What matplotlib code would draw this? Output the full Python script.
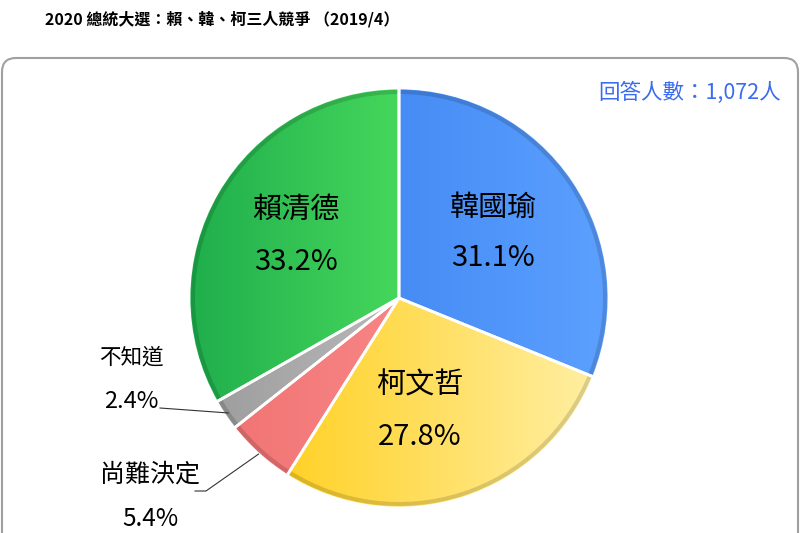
import numpy as np
import matplotlib
matplotlib.use("Agg")
import matplotlib.pyplot as plt
from matplotlib.colors import LinearSegmentedColormap
from matplotlib.patches import FancyBboxPatch, Wedge

plt.rcParams['font.family'] = ['Noto Sans CJK TC', 'DejaVu Sans']

# ---- data ----
labels = ['韓國瑜', '柯文哲', '尚難決定', '不知道', '賴清德']
values = [31.1, 27.8, 5.4, 2.4, 33.2]
pct_labels = ['31.1%', '27.8%', '5.4%', '2.4%', '33.2%']
title = '2020 總統大選：賴、韓、柯三人競爭 （2019/4）'
count_text = '回答人數：1,072人'

# gradient colours (left -> right)
grads = [('#2f78ea', '#5ca0ff'),
         ('#ffc800', '#fff0a8'),
         ('#f07070', '#ff9a9a'),
         ('#9a9a9a', '#d8d8d8'),
         ('#1fae4c', '#6cff6c')]

W, H = 800, 533
fig = plt.figure(figsize=(8, 5.33), dpi=100)
ax = fig.add_axes([0, 0, 1, 1])

def Y(y):  # image pixel row -> data y
    return H - y

# outer rounded box
box = FancyBboxPatch((2, -40), W - 4, Y(58) + 40,
                     boxstyle='round,pad=0,rounding_size=14',
                     facecolor='white', edgecolor='#a0a0a0', linewidth=1.5, zorder=0)
ax.add_patch(box)

cx, cy, R = 399, Y(298), 210
wedges, _ = ax.pie(values, startangle=90, counterclock=False,
                   center=(cx, cy), radius=R,
                   wedgeprops=dict(edgecolor='white', linewidth=2.0),
                   frame=True)
for w, (c0, c1) in zip(wedges, grads):
    w.set_facecolor(c0)
    w.set_zorder(2)
    cmap = LinearSegmentedColormap.from_list('g', [c0, c1])
    grad = np.linspace(0, 1, 256).reshape(1, -1)
    im = ax.imshow(grad, extent=[cx - R, cx + R, cy - R, cy + R], cmap=cmap,
                   aspect='auto', zorder=2.5, interpolation='bicubic')
    im.set_clip_path(w)
    w3 = Wedge(w.center, w.r - 2, w.theta1, w.theta2, width=4,
               facecolor=(0, 0, 0, 0.14), edgecolor='none', zorder=2.8)
    ax.add_patch(w3)
    w2 = Wedge(w.center, w.r, w.theta1, w.theta2,
               facecolor='none', edgecolor='white', linewidth=2.0, zorder=3)
    ax.add_patch(w2)

# title and count
ax.text(45, Y(19), title, fontsize=11.5, fontweight='bold', ha='left', va='center', zorder=5)
ax.text(781, Y(93), count_text, fontsize=15.5, color='#3a6cf0', ha='right', va='center', zorder=5)

# inside labels
inside = {0: (493, 208, 258), 1: (420, 386, 437), 4: (296, 210, 262)}
for i, (x, y1, y2) in inside.items():
    ax.text(x, Y(y1), labels[i], fontsize=21, ha='center', va='center', zorder=5)
    ax.text(x, Y(y2), pct_labels[i], fontsize=21, ha='center', va='center', zorder=5)

# outside labels
ax.text(131, Y(358), labels[3], fontsize=15.5, ha='center', va='center', zorder=5)
ax.text(131, Y(402), pct_labels[3], fontsize=17, ha='center', va='center', zorder=5)
ax.text(150, Y(475), labels[2], fontsize=18, ha='center', va='center', zorder=5)
ax.text(150, Y(519), pct_labels[2], fontsize=17.5, ha='center', va='center', zorder=5)

def edge_point(w, rfrac=1.0):
    a = np.deg2rad((w.theta1 + w.theta2) / 2)
    return cx + R * rfrac * np.cos(a), cy + R * rfrac * np.sin(a)

gx, gy = edge_point(wedges[3], 0.98)
ax.plot([160, gx], [Y(408), gy], color='#333333', lw=0.8, zorder=4)
px, py = edge_point(wedges[2], 1.0)
ax.plot([195, 206, px], [Y(491), Y(491), py], color='#333333', lw=0.8, zorder=4)

ax.set_xlim(0, W)
ax.set_ylim(0, H)
ax.set_aspect('equal')
ax.axis('off')
fig.savefig('out.png', dpi=100)
